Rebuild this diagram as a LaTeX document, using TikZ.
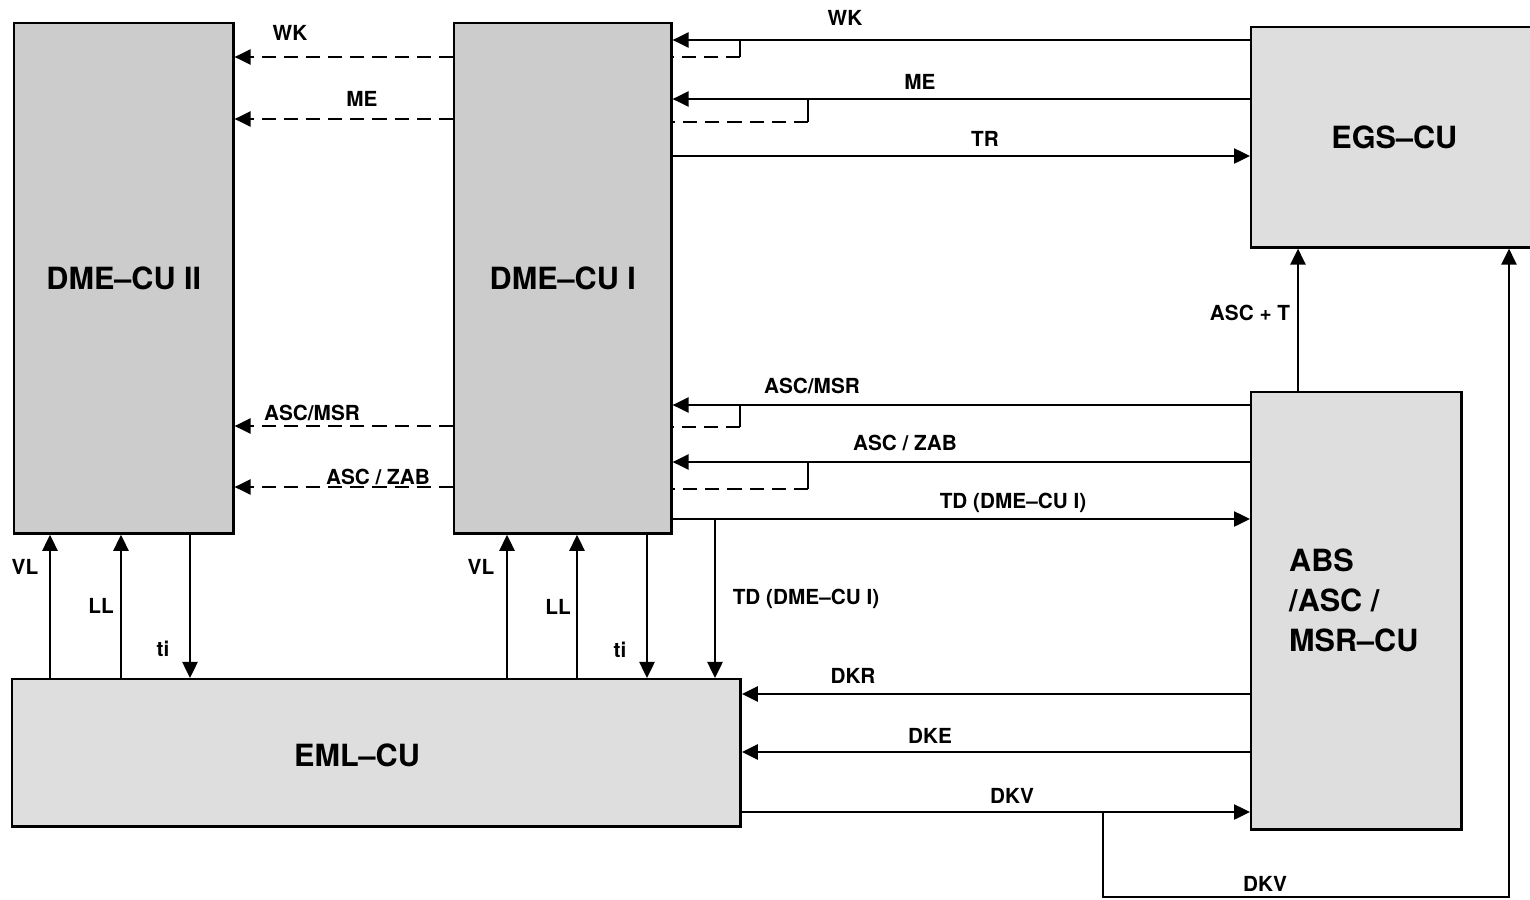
\documentclass[tikz,border=0pt]{standalone}
\usepackage{fontspec}
\setsansfont{TeX Gyre Heros}
\usetikzlibrary{arrows.meta}
\begin{document}
\begin{tikzpicture}[x=0.01cm, y=-0.01cm, line width=0.7pt,
    >={Triangle[length=1.6mm, width=1.5mm]},
    unit/.style={draw, fill=black!13, anchor=north west, inner sep=0pt,
      font=\sffamily\bfseries\fontsize{8.7}{11.4}\selectfont},
    lab/.style={font=\sffamily\bfseries\fontsize{5.9}{7}\selectfont, inner sep=1pt},
    dsh/.style={dash pattern=on 4pt off 2.3pt}]
  \useasboundingbox (0,0) rectangle (1530,900);
  % control units
  \node[unit, fill=black!20, minimum width=2.19cm, minimum height=5.10cm] (dmeb) at (13,22) {DME–CU II};
  \node[unit, fill=black!20, minimum width=2.17cm, minimum height=5.10cm] (dmea) at (453,22) {DME–CU I};
  \node[unit, minimum width=2.86cm, minimum height=2.20cm] (egs) at (1250,26) {EGS–CU};
  \node[unit, minimum width=2.10cm, minimum height=4.37cm] (abs) at (1250,391) {};
  \node[unit, minimum width=7.28cm, minimum height=1.47cm] (eml) at (11,678) {};
  \node[unit, draw=none, fill=none, align=left, anchor=west] (abslab) at (1288,600) {ABS\\/ASC /\\MSR–CU};
  \node[unit, draw=none, fill=none, anchor=center] (emllab) at (357,755) {EML–CU};
  % signals to DME-CU I, passed on dashed to DME-CU II
  \foreach \ym/\yd/\xb/\yl/\src in {40/57/740/57/egs, 99/122/808/119/egs,
      405/427/740/426/abs, 462/489/808/487/abs}{
    \draw[->] (\src.west |- 0,\ym) -- (dmea.east |- 0,\ym);
    \draw (\xb,\ym) -- (\xb,\yd);
    \draw[dsh] (\xb,\yd) -- (dmea.east |- 0,\yd);
    \draw[dsh, ->] (dmea.west |- 0,\yl) -- (dmeb.east |- 0,\yl);
  }
  \draw[->] (dmea.east |- 0,156) -- (egs.west |- 0,156);
  \draw[->] (dmea.east |- 0,519) -- (abs.west |- 0,519);
  \draw[->] (715,519) -- (eml.north -| 715,0);
  % EML-CU and ABS
  \draw[->] (abs.west |- 0,694) -- (eml.east |- 0,694);
  \draw[->] (abs.west |- 0,752) -- (eml.east |- 0,752);
  \draw[->] (eml.east |- 0,812) -- (abs.west |- 0,812);
  \draw[->] (1103,812) -- (1103,897) -| (egs.south -| 1509,0);
  \draw[->] (abs.north -| 1298,0) -- (egs.south -| 1298,0);
  % EML-CU and the DME units
  \draw[->] (eml.north -| 50,0) -- (dmeb.south -| 50,0);
  \draw[->] (eml.north -| 121,0) -- (dmeb.south -| 121,0);
  \draw[->] (dmeb.south -| 190,0) -- (eml.north -| 190,0);
  \draw[->] (eml.north -| 507,0) -- (dmea.south -| 507,0);
  \draw[->] (eml.north -| 577,0) -- (dmea.south -| 577,0);
  \draw[->] (dmea.south -| 647,0) -- (eml.north -| 647,0);
  % labels
  \node[lab] at (845,18) {WK};
  \node[lab] at (920,82) {ME};
  \node[lab] at (985,139) {TR};
  \node[lab] at (812,386) {ASC/MSR};
  \node[lab] at (905,443) {ASC / ZAB};
  \node[lab] at (1013,503) {TD (DME–CU I)};
  \node[lab] at (806,599) {TD (DME–CU I)};
  \node[lab] at (853,676) {DKR};
  \node[lab] at (930,736) {DKE};
  \node[lab] at (1012,796) {DKV};
  \node[lab] at (1265,884) {DKV};
  \node[lab] at (1250,313) {ASC + T};
  \node[lab] at (290,33) {WK};
  \node[lab] at (362,99) {ME};
  \node[lab] at (312,413) {ASC/MSR};
  \node[lab] at (378,477) {ASC / ZAB};
  \node[lab] at (25,567) {VL};
  \node[lab] at (101,606) {LL};
  \node[lab] at (163,649) {ti};
  \node[lab] at (481,567) {VL};
  \node[lab] at (558,607) {LL};
  \node[lab] at (620,650) {ti};
\end{tikzpicture}
\end{document}
